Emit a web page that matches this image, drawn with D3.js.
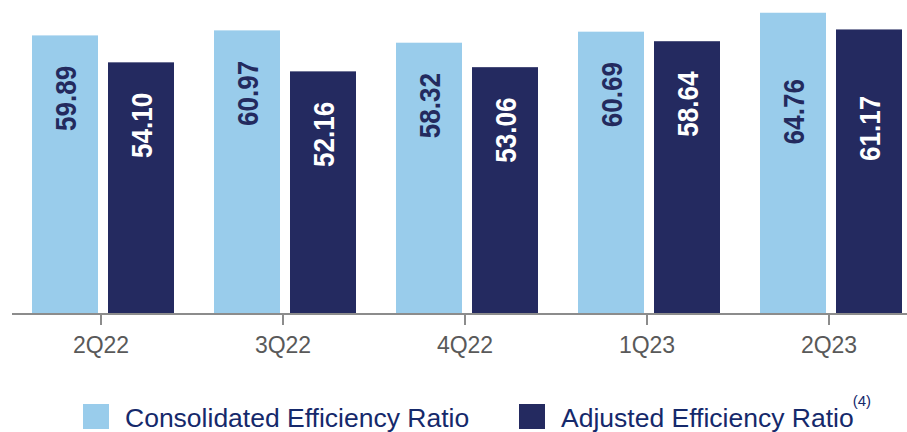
<!DOCTYPE html>
<html>
<head>
<meta charset="utf-8">
<script src="https://cdn.jsdelivr.net/npm/d3@7"></script>
<style>
  html, body { margin: 0; padding: 0; background: #ffffff; }
  svg { display: block; font-family: "Liberation Sans", Arial, sans-serif; }
</style>
</head>
<body>
<svg id="chart" width="907" height="432"></svg>
<script>
// Quarterly efficiency ratios (%)
const quarters = ["2Q22", "3Q22", "4Q22", "1Q23", "2Q23"];
const consolidated = [59.89, 60.97, 58.32, 60.69, 64.76];
const adjusted = [54.10, 52.16, 53.06, 58.64, 61.17];
const seriesNames = ["Consolidated Efficiency Ratio", "Adjusted Efficiency Ratio"];

const colors = { light: "#99cceb", navy: "#242a60" };
const seriesColor = [colors.light, colors.navy];
const labelColor = ["#232a5e", "#ffffff"];

// Distance from a bar's top to the centre of its rotated value label
const labelDrop = { default: 63, "2Q23": 99 };

const svg = d3.select("#chart");

const x = d3.scaleBand().domain(quarters).range([10, 920]).padding(0);
const xInner = d3.scaleBand().domain([0, 1]).range([-69, 73]).paddingInner(10 / 76).paddingOuter(0);
const y = d3.scaleLinear().domain([0, 67.5]).range([314, 0]);

const rows = quarters.map((q, i) => ({ q, values: [consolidated[i], adjusted[i]] }));

// Bars
const groups = svg.append("g").selectAll("g")
  .data(rows).join("g")
  .attr("transform", d => `translate(${x(d.q) + x.bandwidth() / 2},0)`);

groups.selectAll("rect")
  .data(d => d.values.map((v, s) => ({ q: d.q, v, s })))
  .join("rect")
  .attr("x", d => xInner(d.s))
  .attr("width", xInner.bandwidth())
  .attr("y", d => y(d.v))
  .attr("height", d => y(0) - y(d.v))
  .attr("fill", d => seriesColor[d.s]);

// Rotated value labels inside the bars
groups.selectAll("text")
  .data(d => d.values.map((v, s) => ({ q: d.q, v, s })))
  .join("text")
  .attr("transform", d => {
    const cx = xInner(d.s) + xInner.bandwidth() / 2;
    const cy = y(d.v) + (labelDrop[d.q] ?? labelDrop.default);
    return `translate(${cx},${cy}) rotate(-90) scale(0.87,1)`;
  })
  .attr("text-anchor", "middle")
  .attr("dy", "0.36em")
  .attr("font-size", 30)
  .attr("font-weight", "bold")
  .attr("fill", d => labelColor[d.s])
  .text(d => d.v.toFixed(2));

// Category axis
const axis = svg.append("g")
  .attr("transform", `translate(0,${y(0)})`)
  .call(d3.axisBottom(x).tickSize(11).tickSizeOuter(0).tickPadding(11.7));
axis.select(".domain").attr("stroke", "#8c8c8c").attr("stroke-width", 2)
  .attr("d", "M12,0H907");
axis.selectAll(".tick line").attr("stroke", "#8c8c8c").attr("stroke-width", 2);
axis.selectAll(".tick text")
  .attr("font-size", 23)
  .attr("font-family", "Liberation Sans, Arial, sans-serif")
  .attr("fill", "#595959");

// Legend
const legendItems = [
  { name: seriesNames[0], color: seriesColor[0], sx: 83, tx: 125, note: null },
  { name: seriesNames[1], color: seriesColor[1], sx: 519, tx: 561, note: "(4)" }
];
const legend = svg.append("g");
legendItems.forEach(item => {
  legend.append("rect")
    .attr("x", item.sx).attr("y", 404)
    .attr("width", 26).attr("height", 25)
    .attr("fill", item.color);
  const t = legend.append("text")
    .attr("x", item.tx).attr("y", 427)
    .attr("font-size", 26.5)
    .attr("fill", "#15296b")
    .text(item.name);
  if (item.note) {
    const w = t.node().getComputedTextLength();
    legend.append("text")
      .attr("x", item.tx + w - 1).attr("y", 406)
      .attr("font-size", 15)
      .attr("fill", "#15296b")
      .text(item.note);
  }
});
</script>
</body>
</html>
